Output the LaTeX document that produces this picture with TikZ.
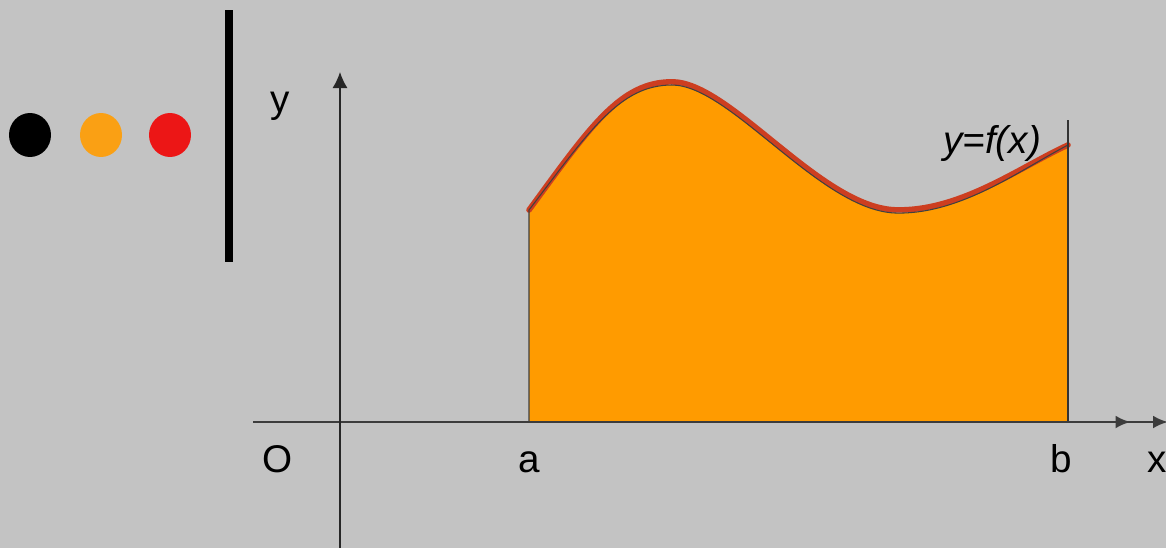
\documentclass[tikz,border=0pt]{standalone}
\usepackage{fontspec}
\setmainfont{Liberation Sans}
\usetikzlibrary{arrows.meta}
\definecolor{bggray}{RGB}{195,195,195}
\definecolor{areaorange}{RGB}{255,155,0}
\definecolor{dotorange}{RGB}{250,160,20}
\definecolor{dotred}{RGB}{236,22,22}
\definecolor{curvered}{RGB}{205,62,32}
\definecolor{axisgray}{RGB}{60,60,60}

\begin{document}
\begin{tikzpicture}[x=0.02cm,y=-0.02cm,
    axisline/.style={draw=axisgray,line width=1.6pt},
    lbl/.style={font=\fontsize{22}{26}\selectfont,anchor=base,inner sep=0pt}]
  \fill[bggray] (0,0) rectangle (1166,548);
  \useasboundingbox (0,0) rectangle (1166,548);

  \fill[black] (30,135) ellipse [x radius=0.42cm,y radius=0.44cm];
  \fill[dotorange] (101,135) ellipse [x radius=0.42cm,y radius=0.44cm];
  \fill[dotred] (170,135) ellipse [x radius=0.42cm,y radius=0.44cm];
  \draw[line width=4pt] (229,10) -- (229,262);

  \coordinate (Xstart) at (253,422);
  \coordinate (Xend) at (1168,422);
  \coordinate (Ystart) at (340,548);
  \coordinate (Yend) at (340,72);
  \coordinate (A) at (529,422);
  \coordinate (B) at (1068,422);
  \coordinate (FA) at (529,210);
  \coordinate (FB) at (1068,145);
  \coordinate (Btop) at (1068,120);

  \fill[areaorange] (A) -- (FA) .. controls (590,130) and (620,85) .. (672,85)
    .. controls (730,85) and (820,210) .. (895,213)
    .. controls (960,215) and (1020,170) .. (FB) -- (B) -- cycle;
  \draw[curvered,line width=3.2pt,line cap=round,yshift=1.8pt] (FA) .. controls (590,130) and (620,85) .. (672,85)
    .. controls (730,85) and (820,210) .. (895,213)
    .. controls (960,215) and (1020,170) .. (FB);
  \draw[black!75,line width=0.6pt] (A) -- (FA) .. controls (590,130) and (620,85) .. (672,85)
    .. controls (730,85) and (820,210) .. (895,213)
    .. controls (960,215) and (1020,170) .. (FB);
  \draw[black!80,line width=0.8pt] (Btop) -- (B);

  \draw[axisline,-{Latex[length=0.3cm,width=0.26cm,sep=0.45cm]Latex[length=0.3cm,width=0.26cm]}] (Xstart) -- (Xend);
  \draw[black!85,line width=0.8pt,-{Latex[length=0.32cm,width=0.3cm]}] (Ystart) -- (Yend);

  \node[lbl] (lblO) at (278,472) {O};
  \node[lbl] (lbla) at (529,472) {a};
  \node[lbl] (lblb) at (1061,472) {b};
  \node[lbl] (lblx) at (1157,472) {x};
  \node[lbl] (lbly) at (280,112) {y};
  \node[lbl,font=\fontsize{22}{26}\selectfont\itshape] (lblf) at (992,153) {y=f(x)};
\end{tikzpicture}
\end{document}
